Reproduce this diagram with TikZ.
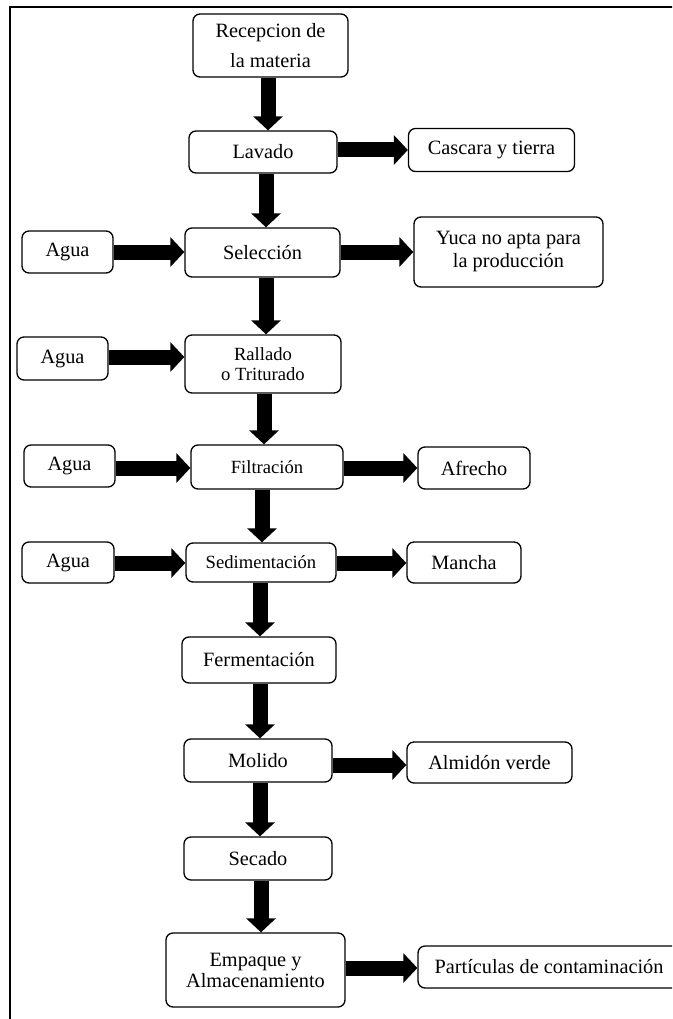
\documentclass[tikz,border=0pt]{standalone}
\usepackage{fontspec}
\setmainfont{Liberation Serif}
\usetikzlibrary{arrows.meta,calc}
\begin{document}
\begin{tikzpicture}[x=1pt,y=-1pt,
  box/.style={draw,line width=1.3pt,rounded corners=7pt,inner sep=0pt,align=center,
    font=\fontsize{20.3}{23}\selectfont},
  small/.style={font=\fontsize{18.6}{20}\selectfont},
  flow/.style={line width=15pt,-{Triangle[length=14pt,width=29pt]}},
]
\useasboundingbox (0,0) rectangle (672,1019);
\clip (0,0) rectangle (672,1019);
\draw[line width=2pt] (10,7) rectangle (760,1080);

% main column
\node[box,minimum width=155pt,minimum height=63pt,font=\fontsize{20.3}{30}\selectfont] (rec) at (270.5,45.5) {Recepcion de\\la materia};
\node[box,minimum width=148pt,minimum height=42pt] (lav) at (263,152) {Lavado};
\node[box,minimum width=155pt,minimum height=49pt] (sel) at (262.5,252.5) {Selección};
\node[box,small,minimum width=156pt,minimum height=58pt] (ral) at (263,364) {Rallado\\o Triturado};
\node[box,small,minimum width=152pt,minimum height=44pt] (fil) at (267,467) {Filtración};
\node[box,small,minimum width=150pt,minimum height=39pt] (sed) at (261,562.5) {Sedimentación};
\node[box,minimum width=154pt,minimum height=46pt] (fer) at (259,660) {Fermentación};
\node[box,minimum width=148pt,minimum height=43pt] (mol) at (258,760.5) {Molido};
\node[box,minimum width=148pt,minimum height=43pt] (sec) at (258,858.5) {Secado};
\node[box,minimum width=179pt,minimum height=74pt,font=\fontsize{20.3}{21}\selectfont] (emp) at (255.5,970) {Empaque y\\Almacenamiento};

% inputs
\node[box,minimum width=91pt,minimum height=42pt] (ag1) at (67.5,252) {Agua};
\node[box,minimum width=91pt,minimum height=43pt] (ag2) at (62.5,358.5) {Agua};
\node[box,minimum width=91pt,minimum height=42pt] (ag3) at (69.5,466) {Agua};
\node[box,minimum width=92pt,minimum height=41pt] (ag4) at (68,562.5) {Agua};

% outputs
\node[box,minimum width=166pt,minimum height=43pt] (cas) at (491.5,150) {Cascara y tierra};
\node[box,minimum width=189pt,minimum height=70pt] (yuc) at (508.5,252) {Yuca no apta para\\la producción};
\node[box,minimum width=112pt,minimum height=42pt] (afr) at (474,468) {Afrecho};
\node[box,minimum width=114pt,minimum height=41pt] (man) at (464,562.5) {Mancha};
\node[box,minimum width=165pt,minimum height=41pt] (alm) at (489.5,762.5) {Almidón verde};
\node[box,minimum width=262pt,minimum height=42pt] (par) at (549,967) {Partículas de contaminación};

% arrow columns / rows
\coordinate (v1) at (268,0);
\coordinate (v2) at (266,0);
\coordinate (v3) at (266,0);
\coordinate (v4) at (264,0);
\coordinate (v5) at (262,0);
\coordinate (v6) at (260,0);
\coordinate (v7) at (260,0);
\coordinate (v8) at (260,0);
\coordinate (v9) at (261,0);
\coordinate (h1) at (0,150);
\coordinate (h2) at (0,252);
\coordinate (h3) at (0,357);
\coordinate (h4) at (0,468);
\coordinate (h5) at (0,563);
\coordinate (h6) at (0,765);
\coordinate (h7) at (0,968);

\draw[flow] (rec.south -| v1) -- (lav.north -| v1);
\draw[flow] (lav.south -| v2) -- (sel.north -| v2);
\draw[flow] (sel.south -| v3) -- (ral.north -| v3);
\draw[flow] (ral.south -| v4) -- (fil.north -| v4);
\draw[flow] (fil.south -| v5) -- (sed.north -| v5);
\draw[flow] (sed.south -| v6) -- (fer.north -| v6);
\draw[flow] (fer.south -| v7) -- (mol.north -| v7);
\draw[flow] (mol.south -| v8) -- (sec.north -| v8);
\draw[flow] (sec.south -| v9) -- (emp.north -| v9);

\draw[flow] (lav.east |- h1) -- (cas.west |- h1);
\draw[flow] (ag1.east |- h2) -- (sel.west |- h2);
\draw[flow] (sel.east |- h2) -- (yuc.west |- h2);
\draw[flow] (ag2.east |- h3) -- (ral.west |- h3);
\draw[flow] (ag3.east |- h4) -- (fil.west |- h4);
\draw[flow] (fil.east |- h4) -- (afr.west |- h4);
\draw[flow] (ag4.east |- h5) -- (sed.west |- h5);
\draw[flow] (sed.east |- h5) -- (man.west |- h5);
\draw[flow] (mol.east |- h6) -- (alm.west |- h6);
\draw[flow] (emp.east |- h7) -- (par.west |- h7);
\end{tikzpicture}
\end{document}
